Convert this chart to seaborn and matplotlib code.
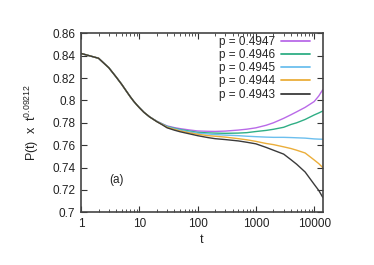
import numpy as np
import pandas as pd
import matplotlib
matplotlib.use("Agg")
import matplotlib.pyplot as plt
import seaborn as sns
from matplotlib.ticker import FixedLocator, FuncFormatter, LogLocator, NullFormatter

# ---- data ----
t = [1, 2, 3, 4, 5, 6, 7, 8, 9, 10, 12, 15, 20, 25, 30, 40, 50, 70, 100, 150, 200, 300, 500, 700,
     1000, 1500, 2000, 3000, 4000, 5000, 7000, 10000, 12000, 14000]
common = [0.8420, 0.8377, 0.8292, 0.8210, 0.8143, 0.8083, 0.8033, 0.7993, 0.7962, 0.7936,
          0.7894, 0.7853]

p4947 = common + [0.7814, 0.7790, 0.7772, 0.7757, 0.7748, 0.7737, 0.7727, 0.7724, 0.7723, 0.7726,
                  0.7735, 0.7743, 0.7755, 0.7778, 0.7800, 0.7840, 0.7872, 0.7898, 0.7938, 0.7990,
                  0.8040, 0.8095]
p4946 = common + [0.7813, 0.7788, 0.7768, 0.7751, 0.7740, 0.7727, 0.7715, 0.7710, 0.7708, 0.7706,
                  0.7708, 0.7712, 0.7722, 0.7732, 0.7742, 0.7760, 0.7785, 0.7800, 0.7830, 0.7870,
                  0.7888, 0.7905]
p4945 = common + [0.7812, 0.7786, 0.7764, 0.7746, 0.7735, 0.7720, 0.7707, 0.7700, 0.7695, 0.7690,
                  0.7685, 0.7680, 0.7676, 0.7672, 0.7670, 0.7670, 0.7668, 0.7666, 0.7663, 0.7656,
                  0.7654, 0.7653]
p4944 = common + [0.7811, 0.7784, 0.7760, 0.7741, 0.7728, 0.7712, 0.7698, 0.7685, 0.7680, 0.7672,
                  0.7658, 0.7648, 0.7634, 0.7615, 0.7605, 0.7585, 0.7570, 0.7555, 0.7530, 0.7468,
                  0.7435, 0.7400]
p4943 = common + [0.7810, 0.7781, 0.7755, 0.7734, 0.7720, 0.7703, 0.7685, 0.7668, 0.7658, 0.7650,
                  0.7638, 0.7626, 0.7612, 0.7580, 0.7555, 0.7520, 0.7470, 0.7430, 0.7360, 0.7250,
                  0.7195, 0.7135]

labels = ["p = 0.4947", "p = 0.4946", "p = 0.4945", "p = 0.4944", "p = 0.4943"]
series = [p4947, p4946, p4945, p4944, p4943]
colors = ["#b96ae8", "#2fae85", "#6cbfee", "#ebae3a", "#3a3a3a"]

yticks = [0.70, 0.72, 0.74, 0.76, 0.78, 0.80, 0.82, 0.84, 0.86]
xticks = [1, 10, 100, 1000, 10000]

rows = []
for lab, vals in zip(labels, series):
    for tt, v in zip(t, vals):
        rows.append({"t": tt, "v": v, "p": lab})
df = pd.DataFrame(rows)

sns.set_style("ticks")
plt.rcParams["font.family"] = ["Liberation Sans", "DejaVu Sans"]
plt.rcParams["mathtext.fontset"] = "custom"
plt.rcParams["mathtext.rm"] = "Liberation Sans"
plt.rcParams["mathtext.it"] = "Liberation Sans"

fig = plt.figure(figsize=(3.74, 2.65), dpi=100)
ax = fig.add_axes([0.2166, 0.1989, 0.8628 - 0.2166, 0.8743 - 0.1989])

sns.lineplot(data=df, x="t", y="v", hue="p", hue_order=labels,
             palette=dict(zip(labels, colors)), linewidth=1.0, ax=ax)

ax.set_xscale("log")
ax.set_xlim(1, 14000)
ax.set_ylim(0.70, 0.86)
ax.xaxis.set_major_locator(FixedLocator(xticks))
ax.xaxis.set_major_formatter(FuncFormatter(lambda v, p: "%d" % v))
ax.xaxis.set_minor_locator(LogLocator(base=10, subs=np.arange(2, 10)))
ax.xaxis.set_minor_formatter(NullFormatter())
ax.yaxis.set_major_locator(FixedLocator(yticks))
ax.yaxis.set_major_formatter(FuncFormatter(lambda v, p: ("%.2f" % v).rstrip("0").rstrip(".")))

ax.tick_params(axis="both", which="major", direction="in", length=4, width=0.8,
               top=True, right=True, labelsize=8.5, colors="#333333", labelcolor="#222222", pad=4)
ax.tick_params(axis="x", which="minor", direction="in", length=2, width=0.6,
               top=True, bottom=True, colors="#333333")
for s in ax.spines.values():
    s.set_visible(True)
    s.set_linewidth(1.2)
    s.set_color("#444444")

ax.set_xlabel("t", fontsize=9, color="#222222", labelpad=3)
ax.set_ylabel(r"P(t)  x  t$^{0.09212}$", fontsize=9, color="#222222", labelpad=8)

ax.text(0.148, 0.18, "(a)", transform=ax.transAxes, fontsize=8.5,
        ha="center", va="center", color="#222222")

leg = ax.legend(loc="upper right", bbox_to_anchor=(0.975, 1.025), frameon=False,
                markerfirst=False, fontsize=8.5, handlelength=2.4, handletextpad=0.5,
                labelspacing=0.1, borderaxespad=0.2)
for line in leg.get_lines():
    line.set_linewidth(1.3)

fig.savefig("out.png", dpi=100)
